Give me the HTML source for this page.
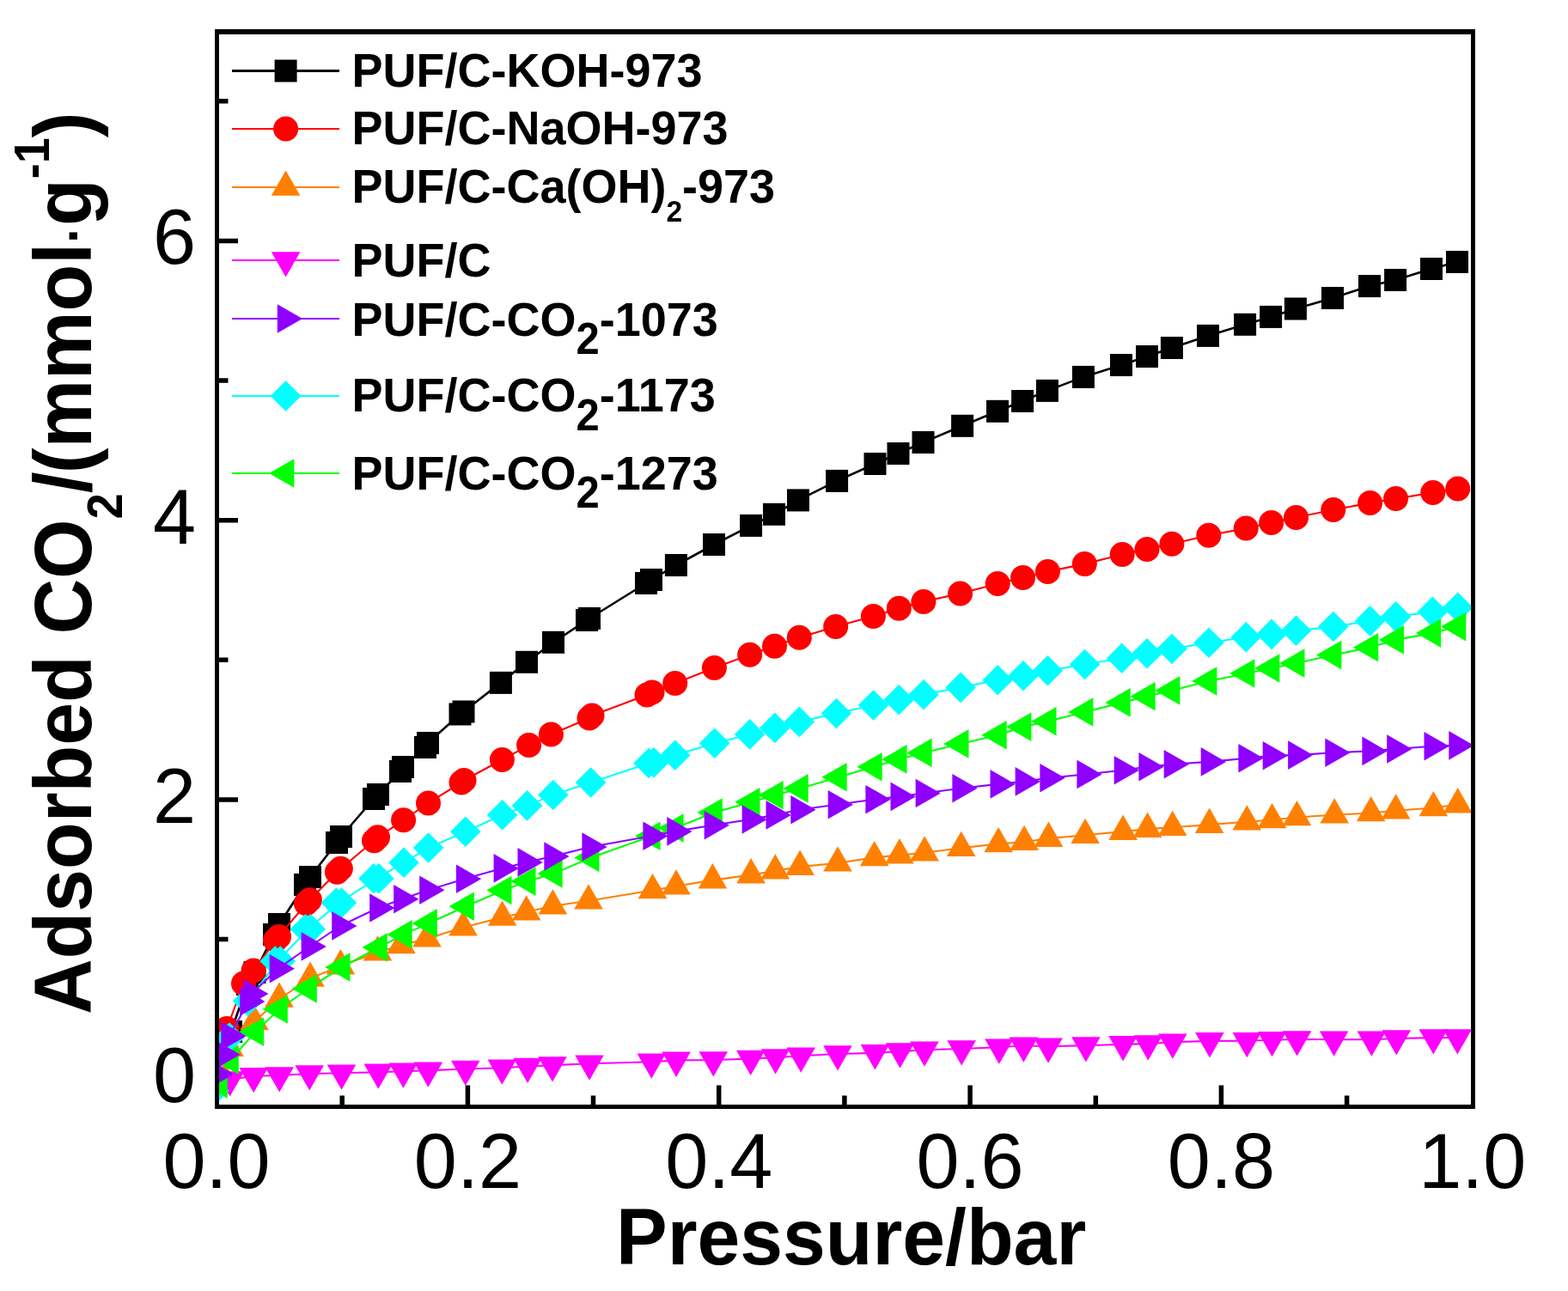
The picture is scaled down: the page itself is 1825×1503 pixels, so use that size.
<!DOCTYPE html>
<html><head><meta charset="utf-8"><title>Adsorbed CO2 isotherms</title>
<style>
html,body{margin:0;padding:0;background:#fff;}
svg{display:block;}
.tl{font-family:"Liberation Sans",Arial,sans-serif;font-size:90px;fill:#000;}
.at{font-family:"Liberation Sans",Arial,sans-serif;font-size:89.5px;font-weight:bold;fill:#000;}
.lg{font-family:"Liberation Sans",Arial,sans-serif;font-size:54px;font-weight:bold;fill:#000;}
</style></head><body>
<svg width="1825" height="1503" viewBox="0 0 1825 1503">
<rect width="1825" height="1503" fill="#fff"/>
<defs><clipPath id="pa"><rect x="252.5" y="37" width="1462" height="1251.5"/></clipPath></defs>
<g clip-path="url(#pa)">
<g fill="#000000" stroke="none">
<polyline fill="none" stroke="#000000" stroke-width="2.6" stroke-linejoin="round" points="269,1201 288,1146 296.5,1132 319,1088 325,1076 355,1030 361,1021 392,981 397,974 435,930 440,925 466,898 469,893 495,870 498,865 535.5,831.5 539.5,828.5 582.9,794.9 613,770.8 644,747.8 683,722 686,720 752,679 758,675 786.9,658 831,634 874.1,611.9 901,598.8 929,582.4 974.1,559.9 1018.5,540 1045.5,528 1074.5,515 1120.1,495.8 1161,478.8 1190.1,467 1218.9,454.9 1260.9,438.9 1305,425 1335,415 1363.9,405 1406,390.9 1449.1,377.8 1479.1,368.9 1507.9,359.5 1551,347 1594,333.1 1624.1,326 1666,313 1696,305"/>
<rect x="256" y="1188" width="26" height="26"/>
<rect x="275" y="1133" width="26" height="26"/>
<rect x="283.5" y="1119" width="26" height="26"/>
<rect x="306" y="1075" width="26" height="26"/>
<rect x="312" y="1063" width="26" height="26"/>
<rect x="342" y="1017" width="26" height="26"/>
<rect x="348" y="1008" width="26" height="26"/>
<rect x="379" y="968" width="26" height="26"/>
<rect x="384" y="961" width="26" height="26"/>
<rect x="422" y="917" width="26" height="26"/>
<rect x="427" y="912" width="26" height="26"/>
<rect x="453" y="885" width="26" height="26"/>
<rect x="456" y="880" width="26" height="26"/>
<rect x="482" y="857" width="26" height="26"/>
<rect x="485" y="852" width="26" height="26"/>
<rect x="522.5" y="818.5" width="26" height="26"/>
<rect x="526.5" y="815.5" width="26" height="26"/>
<rect x="569.9" y="781.9" width="26" height="26"/>
<rect x="600" y="757.8" width="26" height="26"/>
<rect x="631" y="734.8" width="26" height="26"/>
<rect x="670" y="709" width="26" height="26"/>
<rect x="673" y="707" width="26" height="26"/>
<rect x="739" y="666" width="26" height="26"/>
<rect x="745" y="662" width="26" height="26"/>
<rect x="773.9" y="645" width="26" height="26"/>
<rect x="818" y="621" width="26" height="26"/>
<rect x="861.1" y="598.9" width="26" height="26"/>
<rect x="888" y="585.8" width="26" height="26"/>
<rect x="916" y="569.4" width="26" height="26"/>
<rect x="961.1" y="546.9" width="26" height="26"/>
<rect x="1005.5" y="527" width="26" height="26"/>
<rect x="1032.5" y="515" width="26" height="26"/>
<rect x="1061.5" y="502" width="26" height="26"/>
<rect x="1107.1" y="482.8" width="26" height="26"/>
<rect x="1148" y="465.8" width="26" height="26"/>
<rect x="1177.1" y="454" width="26" height="26"/>
<rect x="1205.9" y="441.9" width="26" height="26"/>
<rect x="1247.9" y="425.9" width="26" height="26"/>
<rect x="1292" y="412" width="26" height="26"/>
<rect x="1322" y="402" width="26" height="26"/>
<rect x="1350.9" y="392" width="26" height="26"/>
<rect x="1393" y="377.9" width="26" height="26"/>
<rect x="1436.1" y="364.8" width="26" height="26"/>
<rect x="1466.1" y="355.9" width="26" height="26"/>
<rect x="1494.9" y="346.5" width="26" height="26"/>
<rect x="1538" y="334" width="26" height="26"/>
<rect x="1581" y="320.1" width="26" height="26"/>
<rect x="1611.1" y="313" width="26" height="26"/>
<rect x="1653" y="300" width="26" height="26"/>
<rect x="1683" y="292" width="26" height="26"/>
</g>
<g fill="#FF0000" stroke="none">
<polyline fill="none" stroke="#FF0000" stroke-width="2.1" stroke-linejoin="round" points="264,1197.5 283.5,1145 295,1130 322.5,1092.4 358.4,1049.8 394.4,1013.2 437.5,976.7 469.6,954.7 498.5,935 537,911 540,908.5 584.4,884.5 615.6,867.6 641.4,855 686,836 689,833 753,809 759,806 785.7,795.4 831.4,777.5 872.7,762.3 901.5,752.3 930.3,742.3 972.7,729.5 1016.4,717.4 1046.3,708.3 1074.9,700.4 1117.6,691 1161.2,679.5 1190.6,672.4 1219.4,665.4 1262.3,656.6 1306.2,645.4 1335,639.4 1363.9,633.3 1406.8,623.3 1450.2,615.1 1479.7,608.4 1508.5,602.4 1551.8,593.5 1594.6,585.6 1624.6,580.6 1667.8,573.5 1696.7,568.9"/>
<circle cx="264" cy="1197.5" r="14.5"/>
<circle cx="283.5" cy="1145" r="14.5"/>
<circle cx="295" cy="1130" r="14.5"/>
<circle cx="320.5" cy="1094.4" r="14.5"/>
<circle cx="324.5" cy="1090.4" r="14.5"/>
<circle cx="356.4" cy="1051.8" r="14.5"/>
<circle cx="360.4" cy="1047.8" r="14.5"/>
<circle cx="392.4" cy="1015.2" r="14.5"/>
<circle cx="396.4" cy="1011.2" r="14.5"/>
<circle cx="435.5" cy="978.7" r="14.5"/>
<circle cx="439.5" cy="974.7" r="14.5"/>
<circle cx="469.6" cy="954.7" r="14.5"/>
<circle cx="498.5" cy="935" r="14.5"/>
<circle cx="537" cy="911" r="14.5"/>
<circle cx="540" cy="908.5" r="14.5"/>
<circle cx="584.4" cy="884.5" r="14.5"/>
<circle cx="615.6" cy="867.6" r="14.5"/>
<circle cx="641.4" cy="855" r="14.5"/>
<circle cx="686" cy="836" r="14.5"/>
<circle cx="689" cy="833" r="14.5"/>
<circle cx="753" cy="809" r="14.5"/>
<circle cx="759" cy="806" r="14.5"/>
<circle cx="785.7" cy="795.4" r="14.5"/>
<circle cx="831.4" cy="777.5" r="14.5"/>
<circle cx="872.7" cy="762.3" r="14.5"/>
<circle cx="901.5" cy="752.3" r="14.5"/>
<circle cx="930.3" cy="742.3" r="14.5"/>
<circle cx="972.7" cy="729.5" r="14.5"/>
<circle cx="1016.4" cy="717.4" r="14.5"/>
<circle cx="1046.3" cy="708.3" r="14.5"/>
<circle cx="1074.9" cy="700.4" r="14.5"/>
<circle cx="1117.6" cy="691" r="14.5"/>
<circle cx="1161.2" cy="679.5" r="14.5"/>
<circle cx="1190.6" cy="672.4" r="14.5"/>
<circle cx="1219.4" cy="665.4" r="14.5"/>
<circle cx="1262.3" cy="656.6" r="14.5"/>
<circle cx="1306.2" cy="645.4" r="14.5"/>
<circle cx="1335" cy="639.4" r="14.5"/>
<circle cx="1363.9" cy="633.3" r="14.5"/>
<circle cx="1406.8" cy="623.3" r="14.5"/>
<circle cx="1450.2" cy="615.1" r="14.5"/>
<circle cx="1479.7" cy="608.4" r="14.5"/>
<circle cx="1508.5" cy="602.4" r="14.5"/>
<circle cx="1551.8" cy="593.5" r="14.5"/>
<circle cx="1594.6" cy="585.6" r="14.5"/>
<circle cx="1624.6" cy="580.6" r="14.5"/>
<circle cx="1667.8" cy="573.5" r="14.5"/>
<circle cx="1696.7" cy="568.9" r="14.5"/>
</g>
<g fill="#FF8000" stroke="none">
<polyline fill="none" stroke="#FF8000" stroke-width="2.1" stroke-linejoin="round" points="258,1250 267,1220.3 296,1189.5 325,1163 361,1139 396.4,1124.6 439.5,1108.8 467,1100.4 497,1092.8 539,1079.8 584.6,1068 612.7,1061.7 643.4,1054.8 685,1048.7 759.5,1036.5 787,1031.7 829.4,1024.6 874.1,1018.6 902.3,1013.7 931.1,1009.1 975,1004.7 1017.7,998.4 1047,995.6 1076.1,992.8 1118.7,987.2 1162.1,982.4 1192.1,980.3 1220.5,976.1 1263.1,972.2 1307.1,968.1 1335.6,965.1 1364.7,963.2 1407.6,960.1 1451.3,956.7 1480.6,954.5 1509.5,951.5 1553.2,948.7 1595.7,946.5 1624.6,943.7 1668.4,940.5 1696.7,936.6"/>
<polygon points="258,1230.5 274.8,1259.8 241.2,1259.8"/>
<polygon points="267,1200.8 283.8,1230.1 250.2,1230.1"/>
<polygon points="296,1170 312.8,1199.3 279.2,1199.3"/>
<polygon points="325,1143.5 341.8,1172.8 308.2,1172.8"/>
<polygon points="361,1119.5 377.8,1148.8 344.2,1148.8"/>
<polygon points="396.4,1105.1 413.2,1134.4 379.6,1134.4"/>
<polygon points="439.5,1089.3 456.3,1118.6 422.7,1118.6"/>
<polygon points="467,1080.9 483.8,1110.2 450.2,1110.2"/>
<polygon points="497,1073.3 513.8,1102.6 480.2,1102.6"/>
<polygon points="539,1060.3 555.8,1089.6 522.2,1089.6"/>
<polygon points="584.6,1048.5 601.4,1077.8 567.8,1077.8"/>
<polygon points="612.7,1042.2 629.5,1071.5 595.9,1071.5"/>
<polygon points="643.4,1035.3 660.2,1064.6 626.6,1064.6"/>
<polygon points="685,1029.2 701.8,1058.5 668.2,1058.5"/>
<polygon points="759.5,1017 776.3,1046.3 742.7,1046.3"/>
<polygon points="787,1012.2 803.8,1041.5 770.2,1041.5"/>
<polygon points="829.4,1005.1 846.2,1034.4 812.6,1034.4"/>
<polygon points="874.1,999.1 890.9,1028.4 857.3,1028.4"/>
<polygon points="902.3,994.2 919.1,1023.5 885.5,1023.5"/>
<polygon points="931.1,989.6 947.9,1018.9 914.3,1018.9"/>
<polygon points="975,985.2 991.8,1014.5 958.2,1014.5"/>
<polygon points="1017.7,978.9 1034.5,1008.2 1000.9,1008.2"/>
<polygon points="1047,976.1 1063.8,1005.4 1030.2,1005.4"/>
<polygon points="1076.1,973.3 1092.9,1002.6 1059.3,1002.6"/>
<polygon points="1118.7,967.7 1135.5,997 1101.9,997"/>
<polygon points="1162.1,962.9 1178.9,992.2 1145.3,992.2"/>
<polygon points="1192.1,960.8 1208.9,990.1 1175.3,990.1"/>
<polygon points="1220.5,956.6 1237.3,985.9 1203.7,985.9"/>
<polygon points="1263.1,952.7 1279.9,982 1246.3,982"/>
<polygon points="1307.1,948.6 1323.9,977.9 1290.3,977.9"/>
<polygon points="1335.6,945.6 1352.4,974.9 1318.8,974.9"/>
<polygon points="1364.7,943.7 1381.5,973 1347.9,973"/>
<polygon points="1407.6,940.6 1424.4,969.9 1390.8,969.9"/>
<polygon points="1451.3,937.2 1468.1,966.5 1434.5,966.5"/>
<polygon points="1480.6,935 1497.4,964.3 1463.8,964.3"/>
<polygon points="1509.5,932 1526.3,961.3 1492.7,961.3"/>
<polygon points="1553.2,929.2 1570,958.5 1536.4,958.5"/>
<polygon points="1595.7,927 1612.5,956.3 1578.9,956.3"/>
<polygon points="1624.6,924.2 1641.4,953.5 1607.8,953.5"/>
<polygon points="1668.4,921 1685.2,950.3 1651.6,950.3"/>
<polygon points="1696.7,917.1 1713.5,946.4 1679.9,946.4"/>
</g>
<g fill="#FF00FF" stroke="none">
<polyline fill="none" stroke="#FF00FF" stroke-width="2.1" stroke-linejoin="round" points="256,1258 267.6,1257 295.2,1252.7 325.2,1252 360.2,1250 397.5,1249.3 440.3,1248.2 469.4,1247.2 498.4,1246.3 541.8,1244.5 584.3,1243.2 614.1,1241.5 643,1240.1 686,1238.2 758.3,1236.3 787.1,1234.4 830.3,1234 873.7,1232.6 902.6,1231.1 932.2,1229.2 975,1227 1018.4,1225.9 1047.5,1224.1 1076,1222.2 1119.2,1221 1162.9,1219.3 1191.4,1217.2 1220.1,1218.3 1263.9,1217.1 1307.1,1215.9 1336.3,1215.1 1364.8,1213.2 1407.9,1211.9 1451.3,1211.7 1480.5,1210.8 1509.6,1210 1552.6,1210.2 1596.4,1210.2 1625.3,1209 1668.3,1208.1 1696.3,1208.1"/>
<polygon points="239.2,1248.2 272.8,1248.2 256,1277.5"/>
<polygon points="250.8,1247.2 284.4,1247.2 267.6,1276.5"/>
<polygon points="278.4,1242.9 312,1242.9 295.2,1272.2"/>
<polygon points="308.4,1242.2 342,1242.2 325.2,1271.5"/>
<polygon points="343.4,1240.2 377,1240.2 360.2,1269.5"/>
<polygon points="380.7,1239.5 414.3,1239.5 397.5,1268.8"/>
<polygon points="423.5,1238.4 457.1,1238.4 440.3,1267.7"/>
<polygon points="452.6,1237.4 486.2,1237.4 469.4,1266.7"/>
<polygon points="481.6,1236.5 515.2,1236.5 498.4,1265.8"/>
<polygon points="525,1234.7 558.6,1234.7 541.8,1264"/>
<polygon points="567.5,1233.4 601.1,1233.4 584.3,1262.7"/>
<polygon points="597.3,1231.7 630.9,1231.7 614.1,1261"/>
<polygon points="626.2,1230.3 659.8,1230.3 643,1259.6"/>
<polygon points="669.2,1228.4 702.8,1228.4 686,1257.7"/>
<polygon points="741.5,1226.5 775.1,1226.5 758.3,1255.8"/>
<polygon points="770.3,1224.6 803.9,1224.6 787.1,1253.9"/>
<polygon points="813.5,1224.2 847.1,1224.2 830.3,1253.5"/>
<polygon points="856.9,1222.8 890.5,1222.8 873.7,1252.1"/>
<polygon points="885.8,1221.3 919.4,1221.3 902.6,1250.6"/>
<polygon points="915.4,1219.4 949,1219.4 932.2,1248.7"/>
<polygon points="958.2,1217.2 991.8,1217.2 975,1246.5"/>
<polygon points="1001.6,1216.1 1035.2,1216.1 1018.4,1245.4"/>
<polygon points="1030.7,1214.3 1064.3,1214.3 1047.5,1243.6"/>
<polygon points="1059.2,1212.4 1092.8,1212.4 1076,1241.7"/>
<polygon points="1102.4,1211.2 1136,1211.2 1119.2,1240.5"/>
<polygon points="1146.1,1209.5 1179.7,1209.5 1162.9,1238.8"/>
<polygon points="1174.6,1207.4 1208.2,1207.4 1191.4,1236.7"/>
<polygon points="1203.3,1208.5 1236.9,1208.5 1220.1,1237.8"/>
<polygon points="1247.1,1207.3 1280.7,1207.3 1263.9,1236.6"/>
<polygon points="1290.3,1206.1 1323.9,1206.1 1307.1,1235.4"/>
<polygon points="1319.5,1205.3 1353.1,1205.3 1336.3,1234.6"/>
<polygon points="1348,1203.4 1381.6,1203.4 1364.8,1232.7"/>
<polygon points="1391.1,1202.1 1424.7,1202.1 1407.9,1231.4"/>
<polygon points="1434.5,1201.9 1468.1,1201.9 1451.3,1231.2"/>
<polygon points="1463.7,1201 1497.3,1201 1480.5,1230.3"/>
<polygon points="1492.8,1200.2 1526.4,1200.2 1509.6,1229.5"/>
<polygon points="1535.8,1200.4 1569.4,1200.4 1552.6,1229.7"/>
<polygon points="1579.6,1200.4 1613.2,1200.4 1596.4,1229.7"/>
<polygon points="1608.5,1199.2 1642.1,1199.2 1625.3,1228.5"/>
<polygon points="1651.5,1198.3 1685.1,1198.3 1668.3,1227.6"/>
<polygon points="1679.5,1198.3 1713.1,1198.3 1696.3,1227.6"/>
</g>
<g fill="#00FFFF" stroke="none">
<polyline fill="none" stroke="#00FFFF" stroke-width="2.1" stroke-linejoin="round" points="249,1270 267,1208 288.6,1165.4 323.2,1119 358.4,1081.7 394.4,1051.1 437.9,1022.8 470,1004.3 498.6,987 541.8,968.3 584.6,948.7 613.5,937.9 643.8,925.5 687.6,911 755,888.5 761,887.7 785.8,879.3 831.7,865.2 872.7,854.9 901.8,847.4 930.3,840.4 973.4,830.5 1016.6,821 1046.2,814.7 1075,808.8 1118.1,800.4 1161.2,791.8 1191,786.8 1219.4,780.8 1262.6,773.5 1305.7,766.3 1335,760.8 1363.9,755.5 1407,748.3 1450.2,741.7 1480,738.4 1508.5,734.3 1551.8,729.5 1594.6,722.9 1624.6,717.9 1667.4,712.3 1696.7,707.3"/>
<polygon points="249,1252.2 266.8,1270 249,1287.8 231.2,1270"/>
<polygon points="267,1190.2 284.8,1208 267,1225.8 249.2,1208"/>
<polygon points="288.6,1147.6 306.4,1165.4 288.6,1183.2 270.8,1165.4"/>
<polygon points="320.2,1101.2 338,1119 320.2,1136.8 302.4,1119"/>
<polygon points="326.2,1101.2 344,1119 326.2,1136.8 308.4,1119"/>
<polygon points="355.4,1063.9 373.2,1081.7 355.4,1099.5 337.6,1081.7"/>
<polygon points="361.4,1063.9 379.2,1081.7 361.4,1099.5 343.6,1081.7"/>
<polygon points="391.4,1033.3 409.2,1051.1 391.4,1068.9 373.6,1051.1"/>
<polygon points="397.4,1033.3 415.2,1051.1 397.4,1068.9 379.6,1051.1"/>
<polygon points="434.9,1005 452.7,1022.8 434.9,1040.6 417.1,1022.8"/>
<polygon points="440.9,1005 458.7,1022.8 440.9,1040.6 423.1,1022.8"/>
<polygon points="470,986.5 487.8,1004.3 470,1022.1 452.2,1004.3"/>
<polygon points="498.6,969.2 516.4,987 498.6,1004.8 480.8,987"/>
<polygon points="541.8,950.5 559.6,968.3 541.8,986.1 524,968.3"/>
<polygon points="584.6,930.9 602.4,948.7 584.6,966.5 566.8,948.7"/>
<polygon points="613.5,920.1 631.3,937.9 613.5,955.7 595.7,937.9"/>
<polygon points="643.8,907.7 661.6,925.5 643.8,943.3 626,925.5"/>
<polygon points="687.6,893.2 705.4,911 687.6,928.8 669.8,911"/>
<polygon points="755,870.7 772.8,888.5 755,906.3 737.2,888.5"/>
<polygon points="761,869.9 778.8,887.7 761,905.5 743.2,887.7"/>
<polygon points="785.8,861.5 803.6,879.3 785.8,897.1 768,879.3"/>
<polygon points="831.7,847.4 849.5,865.2 831.7,883 813.9,865.2"/>
<polygon points="872.7,837.1 890.5,854.9 872.7,872.7 854.9,854.9"/>
<polygon points="901.8,829.6 919.6,847.4 901.8,865.2 884,847.4"/>
<polygon points="930.3,822.6 948.1,840.4 930.3,858.2 912.5,840.4"/>
<polygon points="973.4,812.7 991.2,830.5 973.4,848.3 955.6,830.5"/>
<polygon points="1016.6,803.2 1034.4,821 1016.6,838.8 998.8,821"/>
<polygon points="1046.2,796.9 1064,814.7 1046.2,832.5 1028.4,814.7"/>
<polygon points="1075,791 1092.8,808.8 1075,826.6 1057.2,808.8"/>
<polygon points="1118.1,782.6 1135.9,800.4 1118.1,818.2 1100.3,800.4"/>
<polygon points="1161.2,774 1179,791.8 1161.2,809.6 1143.4,791.8"/>
<polygon points="1191,769 1208.8,786.8 1191,804.6 1173.2,786.8"/>
<polygon points="1219.4,763 1237.2,780.8 1219.4,798.6 1201.6,780.8"/>
<polygon points="1262.6,755.7 1280.4,773.5 1262.6,791.3 1244.8,773.5"/>
<polygon points="1305.7,748.5 1323.5,766.3 1305.7,784.1 1287.9,766.3"/>
<polygon points="1335,743 1352.8,760.8 1335,778.6 1317.2,760.8"/>
<polygon points="1363.9,737.7 1381.7,755.5 1363.9,773.3 1346.1,755.5"/>
<polygon points="1407,730.5 1424.8,748.3 1407,766.1 1389.2,748.3"/>
<polygon points="1450.2,723.9 1468,741.7 1450.2,759.5 1432.4,741.7"/>
<polygon points="1480,720.6 1497.8,738.4 1480,756.2 1462.2,738.4"/>
<polygon points="1508.5,716.5 1526.3,734.3 1508.5,752.1 1490.7,734.3"/>
<polygon points="1551.8,711.7 1569.6,729.5 1551.8,747.3 1534,729.5"/>
<polygon points="1594.6,705.1 1612.4,722.9 1594.6,740.7 1576.8,722.9"/>
<polygon points="1624.6,700.1 1642.4,717.9 1624.6,735.7 1606.8,717.9"/>
<polygon points="1667.4,694.5 1685.2,712.3 1667.4,730.1 1649.6,712.3"/>
<polygon points="1696.7,689.5 1714.5,707.3 1696.7,725.1 1678.9,707.3"/>
</g>
<g fill="#00FF00" stroke="none">
<polyline fill="none" stroke="#00FF00" stroke-width="2.1" stroke-linejoin="round" points="255,1262 268,1234 297.3,1201.2 325,1175 359,1151 397.7,1126 441,1103 469.9,1087.9 499,1074.9 542,1055.2 585.7,1036.5 613.7,1026.1 644.8,1016.9 687.7,998.5 758.7,973.2 785.8,964 831,946 874.7,933.8 901.8,925.8 930.9,917.9 975.8,904.7 1016.9,892.8 1045.7,883.9 1074.8,876.4 1117.7,865.9 1161.9,855.8 1190.6,846.2 1219.7,839.7 1262.6,829 1305.9,817.9 1334.8,810.7 1363.6,803.9 1406.6,793 1450.6,784 1479.5,778 1508.7,772.1 1551.6,762.6 1594.4,753.7 1624.2,744.9 1667.4,737.1 1696.5,729.6"/>
<polygon points="264.8,1245.2 235.5,1262 264.8,1278.8"/>
<polygon points="277.8,1217.2 248.5,1234 277.8,1250.8"/>
<polygon points="307.1,1184.4 277.8,1201.2 307.1,1218"/>
<polygon points="334.8,1158.2 305.5,1175 334.8,1191.8"/>
<polygon points="368.8,1134.2 339.5,1151 368.8,1167.8"/>
<polygon points="407.5,1109.2 378.2,1126 407.5,1142.8"/>
<polygon points="450.8,1086.2 421.5,1103 450.8,1119.8"/>
<polygon points="479.7,1071.1 450.4,1087.9 479.7,1104.7"/>
<polygon points="508.8,1058.1 479.5,1074.9 508.8,1091.7"/>
<polygon points="551.8,1038.4 522.5,1055.2 551.8,1072"/>
<polygon points="595.5,1019.7 566.2,1036.5 595.5,1053.3"/>
<polygon points="623.5,1009.3 594.2,1026.1 623.5,1042.9"/>
<polygon points="654.6,1000.1 625.3,1016.9 654.6,1033.7"/>
<polygon points="697.5,981.7 668.2,998.5 697.5,1015.3"/>
<polygon points="768.5,956.4 739.2,973.2 768.5,990"/>
<polygon points="795.6,947.2 766.3,964 795.6,980.8"/>
<polygon points="840.8,929.2 811.5,946 840.8,962.8"/>
<polygon points="884.5,917 855.2,933.8 884.5,950.6"/>
<polygon points="911.6,909 882.3,925.8 911.6,942.6"/>
<polygon points="940.7,901.1 911.4,917.9 940.7,934.7"/>
<polygon points="985.6,887.9 956.3,904.7 985.6,921.5"/>
<polygon points="1026.7,876 997.4,892.8 1026.7,909.6"/>
<polygon points="1055.5,867.1 1026.2,883.9 1055.5,900.7"/>
<polygon points="1084.6,859.6 1055.3,876.4 1084.6,893.2"/>
<polygon points="1127.5,849.1 1098.2,865.9 1127.5,882.7"/>
<polygon points="1171.7,839 1142.4,855.8 1171.7,872.6"/>
<polygon points="1200.4,829.4 1171.1,846.2 1200.4,863"/>
<polygon points="1229.5,822.9 1200.2,839.7 1229.5,856.5"/>
<polygon points="1272.4,812.2 1243.1,829 1272.4,845.8"/>
<polygon points="1315.7,801.1 1286.4,817.9 1315.7,834.7"/>
<polygon points="1344.6,793.9 1315.3,810.7 1344.6,827.5"/>
<polygon points="1373.4,787.1 1344.1,803.9 1373.4,820.7"/>
<polygon points="1416.4,776.2 1387.1,793 1416.4,809.8"/>
<polygon points="1460.4,767.2 1431.1,784 1460.4,800.8"/>
<polygon points="1489.3,761.2 1460,778 1489.3,794.8"/>
<polygon points="1518.5,755.3 1489.2,772.1 1518.5,788.9"/>
<polygon points="1561.4,745.8 1532.1,762.6 1561.4,779.4"/>
<polygon points="1604.2,736.9 1574.9,753.7 1604.2,770.5"/>
<polygon points="1634,728.1 1604.7,744.9 1634,761.7"/>
<polygon points="1677.2,720.3 1647.9,737.1 1677.2,753.9"/>
<polygon points="1706.3,712.8 1677,729.6 1706.3,746.4"/>
</g>
<g fill="#8F00FF" stroke="none">
<polyline fill="none" stroke="#8F00FF" stroke-width="2.1" stroke-linejoin="round" points="253,1250.5 260.2,1227.7 267.2,1206.3 289,1166 293,1157 323.5,1127.7 360.4,1102 396,1078 440,1057 468,1046.8 498,1036.3 540.7,1023.2 584.4,1010.9 612.3,1003.9 643.1,997 687.2,986 758.2,973.3 786.1,967.9 829.5,960.8 873.4,954 901.3,948.9 930.1,942.7 973.5,936.8 1017.2,930.7 1046.3,927.4 1075.4,923.5 1118.2,917.8 1162.3,912.9 1191.4,909.9 1220.2,905.8 1263.2,901.5 1306.5,896.7 1335.2,892.8 1364.5,889.8 1407.5,886.9 1451.2,882.8 1479.5,879.8 1508.9,879.1 1552.1,876.3 1595.2,874.4 1624,872 1667.3,868.8 1696.1,867.9"/>
<polygon points="243.2,1233.7 272.5,1250.5 243.2,1267.3"/>
<polygon points="250.4,1210.9 279.7,1227.7 250.4,1244.5"/>
<polygon points="257.4,1189.5 286.7,1206.3 257.4,1223.1"/>
<polygon points="279.2,1149.2 308.5,1166 279.2,1182.8"/>
<polygon points="283.2,1140.2 312.5,1157 283.2,1173.8"/>
<polygon points="313.7,1110.9 343,1127.7 313.7,1144.5"/>
<polygon points="350.6,1085.2 379.9,1102 350.6,1118.8"/>
<polygon points="386.2,1061.2 415.5,1078 386.2,1094.8"/>
<polygon points="430.2,1040.2 459.5,1057 430.2,1073.8"/>
<polygon points="458.2,1030 487.5,1046.8 458.2,1063.6"/>
<polygon points="488.2,1019.5 517.5,1036.3 488.2,1053.1"/>
<polygon points="530.9,1006.4 560.2,1023.2 530.9,1040"/>
<polygon points="574.6,994.1 603.9,1010.9 574.6,1027.7"/>
<polygon points="602.5,987.1 631.8,1003.9 602.5,1020.7"/>
<polygon points="633.3,980.2 662.6,997 633.3,1013.8"/>
<polygon points="677.4,969.2 706.7,986 677.4,1002.8"/>
<polygon points="748.4,956.5 777.7,973.3 748.4,990.1"/>
<polygon points="776.3,951.1 805.6,967.9 776.3,984.7"/>
<polygon points="819.7,944 849,960.8 819.7,977.6"/>
<polygon points="863.6,937.2 892.9,954 863.6,970.8"/>
<polygon points="891.5,932.1 920.8,948.9 891.5,965.7"/>
<polygon points="920.3,925.9 949.6,942.7 920.3,959.5"/>
<polygon points="963.7,920 993,936.8 963.7,953.6"/>
<polygon points="1007.4,913.9 1036.7,930.7 1007.4,947.5"/>
<polygon points="1036.5,910.6 1065.8,927.4 1036.5,944.2"/>
<polygon points="1065.6,906.7 1094.9,923.5 1065.6,940.3"/>
<polygon points="1108.4,901 1137.7,917.8 1108.4,934.6"/>
<polygon points="1152.5,896.1 1181.8,912.9 1152.5,929.7"/>
<polygon points="1181.6,893.1 1210.9,909.9 1181.6,926.7"/>
<polygon points="1210.4,889 1239.7,905.8 1210.4,922.6"/>
<polygon points="1253.4,884.7 1282.7,901.5 1253.4,918.3"/>
<polygon points="1296.7,879.9 1326,896.7 1296.7,913.5"/>
<polygon points="1325.4,876 1354.7,892.8 1325.4,909.6"/>
<polygon points="1354.7,873 1384,889.8 1354.7,906.6"/>
<polygon points="1397.7,870.1 1427,886.9 1397.7,903.7"/>
<polygon points="1441.4,866 1470.7,882.8 1441.4,899.6"/>
<polygon points="1469.7,863 1499,879.8 1469.7,896.6"/>
<polygon points="1499.1,862.3 1528.4,879.1 1499.1,895.9"/>
<polygon points="1542.3,859.5 1571.6,876.3 1542.3,893.1"/>
<polygon points="1585.4,857.6 1614.7,874.4 1585.4,891.2"/>
<polygon points="1614.2,855.2 1643.5,872 1614.2,888.8"/>
<polygon points="1657.5,852 1686.8,868.8 1657.5,885.6"/>
<polygon points="1686.3,851.1 1715.6,867.9 1686.3,884.7"/>
</g>
</g>
<path d="M544.4 1288.5V1263.5 M836.7 1288.5V1263.5 M1129.1 1288.5V1263.5 M1421.4 1288.5V1263.5 M398.2 1288.5V1275.5 M690.5 1288.5V1275.5 M982.9 1288.5V1275.5 M1275.3 1288.5V1275.5 M1567.6 1288.5V1275.5 M252.5 931H277 M252.5 605.7H277 M252.5 280.4H277 M252.5 1093.6H265.5 M252.5 768.3H265.5 M252.5 443H265.5 M252.5 117.8H265.5" stroke="#000" stroke-width="5.5" fill="none"/>
<path d="M250 34H1717V1291H250Z M255 40V1286H1712V40Z" fill="#000" fill-rule="evenodd"/>
<text x="252" y="1383" class="tl" text-anchor="middle">0.0</text>
<text x="544.4" y="1383" class="tl" text-anchor="middle">0.2</text>
<text x="836.7" y="1383" class="tl" text-anchor="middle">0.4</text>
<text x="1129.1" y="1383" class="tl" text-anchor="middle">0.6</text>
<text x="1421.4" y="1383" class="tl" text-anchor="middle">0.8</text>
<text x="1713.8" y="1383" class="tl" text-anchor="middle">1.0</text>
<text x="228" y="1283.3" class="tl" text-anchor="end">0</text>
<text x="228" y="958" class="tl" text-anchor="end">2</text>
<text x="228" y="632.7" class="tl" text-anchor="end">4</text>
<text x="228" y="307.4" class="tl" text-anchor="end">6</text>
<text transform="translate(717,1472) scale(1,1.04)" class="at">Pressure/bar</text>
<text transform="translate(106,1181) rotate(-90) scale(1,1.05)" class="at">Adsorbed CO<tspan font-size="54" dy="34.3">2</tspan><tspan dy="-34.3">/</tspan><tspan dx="-2">(mmol</tspan><tspan font-size="60">·</tspan><tspan>g</tspan><tspan font-size="54" dy="-46.7">-1</tspan><tspan dy="46.7">)</tspan></text>
<line x1="270" y1="82.5" x2="395" y2="82.5" stroke="#000000" stroke-width="3"/>
<g fill="#000000"><rect x="319.6" y="69.5" width="26" height="26"/></g>
<text transform="translate(409.5,101) scale(1,1.04)" class="lg">PUF/C-KOH-973</text>
<line x1="270" y1="150" x2="395" y2="150" stroke="#FF0000" stroke-width="2"/>
<g fill="#FF0000"><circle cx="332.6" cy="150" r="14.5"/></g>
<text transform="translate(409.5,168) scale(1,1.04)" class="lg">PUF/C-NaOH-973</text>
<line x1="270" y1="218" x2="395" y2="218" stroke="#FF8000" stroke-width="2"/>
<g fill="#FF8000"><polygon points="332.6,198.5 349.4,227.8 315.8,227.8"/></g>
<text transform="translate(409.5,236) scale(1,1.04)" class="lg">PUF/C-Ca(OH)<tspan font-size="33.5" dy="21.4">2</tspan><tspan dy="-21.4">-973</tspan></text>
<line x1="270" y1="303" x2="395" y2="303" stroke="#FF00FF" stroke-width="2"/>
<g fill="#FF00FF"><polygon points="315.8,293.2 349.4,293.2 332.6,322.5"/></g>
<text transform="translate(409.5,322.3) scale(1,1.04)" class="lg">PUF/C</text>
<line x1="270" y1="371" x2="395" y2="371" stroke="#8F00FF" stroke-width="2"/>
<g fill="#8F00FF"><polygon points="322.8,354.2 352.1,371 322.8,387.8"/></g>
<text transform="translate(409.5,390.7) scale(1,1.04)" class="lg">PUF/C-CO<tspan font-size="49" dy="20.3">2</tspan><tspan dy="-20.3">-1073</tspan></text>
<line x1="270" y1="461" x2="395" y2="461" stroke="#00FFFF" stroke-width="2"/>
<g fill="#00FFFF"><polygon points="332.6,443.2 350.4,461 332.6,478.8 314.8,461"/></g>
<text transform="translate(409.5,479.1) scale(1,1.04)" class="lg">PUF/C-CO<tspan font-size="49" dy="21.5">2</tspan><tspan dy="-21.5">-1173</tspan></text>
<line x1="270" y1="551" x2="395" y2="551" stroke="#00FF00" stroke-width="2"/>
<g fill="#00FF00"><polygon points="342.4,534.2 313.1,551 342.4,567.8"/></g>
<text transform="translate(409.5,569.6) scale(1,1.04)" class="lg">PUF/C-CO<tspan font-size="49" dy="20.9">2</tspan><tspan dy="-20.9">-1273</tspan></text>
</svg>
</body></html>
